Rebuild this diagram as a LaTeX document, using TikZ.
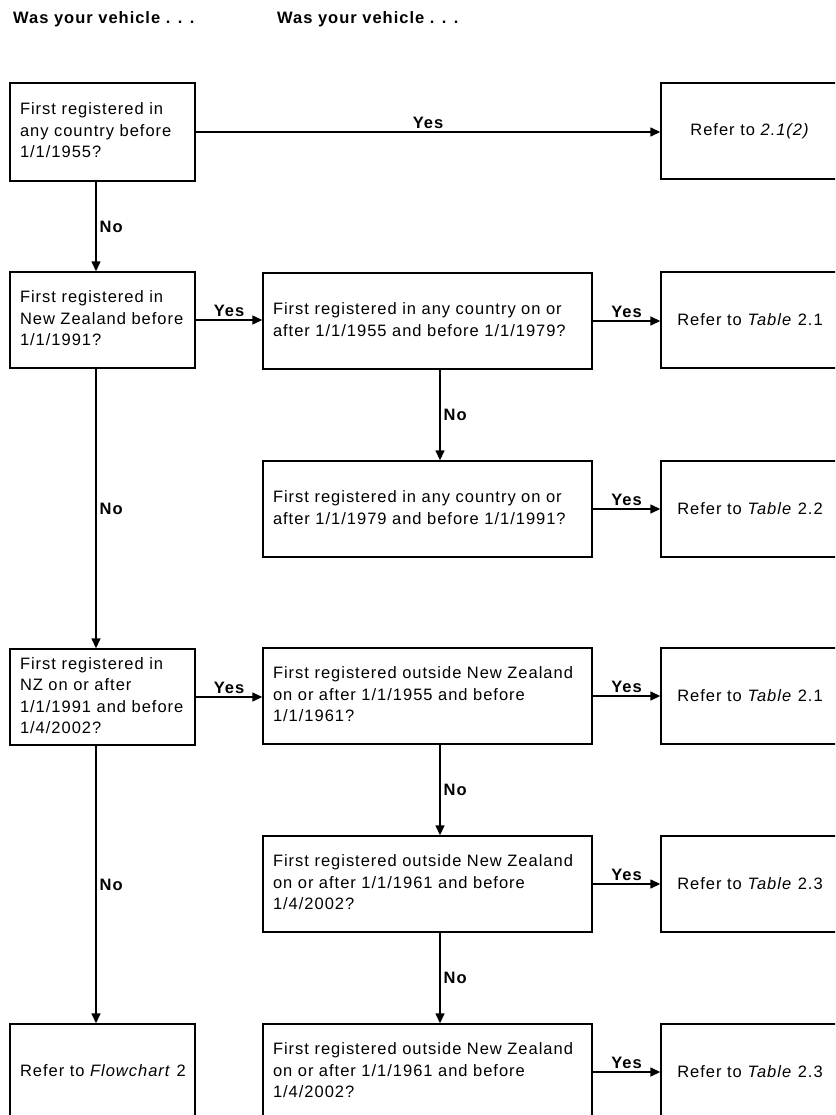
\documentclass[tikz,border=0pt]{standalone}
\usepackage{fontspec}
\setmainfont{Liberation Sans}[LetterSpace=6.0]
\usetikzlibrary{arrows.meta}
\newcommand{\lines}[1]{\begin{tabular}{@{}l@{}}#1\end{tabular}}
\begin{document}
\begin{tikzpicture}[x=1pt,y=-1pt,
  every node/.style={font=\fontsize{16.5}{21.5}\selectfont},
  box/.style={draw, line width=1.4pt, rectangle, inner xsep=10pt, inner ysep=0pt, align=left, minimum height=96pt},
  lbox/.style={box, minimum width=185pt, text width=165pt},
  cbox/.style={box, minimum width=329pt, text width=309pt},
  rbox/.style={box, minimum width=178pt, align=center},
  arr/.style={line width=1.4pt, -{Triangle[length=10pt,width=9pt]}},
  lab/.style={font=\bfseries\fontsize{16.5}{20}\selectfont, inner sep=3pt},
  head/.style={font=\bfseries\fontsize{16.5}{20}\selectfont, anchor=base west, inner sep=0pt}
]
\useasboundingbox (0,0) rectangle (835,1115);
\fill[white] (0,0) rectangle (835,1115);
\clip (0,0) rectangle (835,1115);

\coordinate (lx) at (96,0);
\coordinate (cx) at (440,0);

% headers
\node[head] (h1) at (13,24) {Was your vehicle . . .};
\node[head] (h2) at (277,24) {Was your vehicle . . .};

% left column
\node[lbox, minimum height=98pt] (A) at (102.5,132) {\lines{First registered in\\any country before\\1/1/1955?}};
\node[lbox] (B) at (102.5,320) {\lines{First registered in\\New Zealand before\\1/1/1991?}};
\node[lbox] (D) at (102.5,697) {\lines{First registered in\\NZ on or after\\1/1/1991 and before\\1/4/2002?}};
\node[lbox] (E) at (102.5,1072) {\lines{Refer to \textit{Flowchart} 2}};

% centre column
\node[cbox] (C1) at (427.5,321) {\lines{First registered in any country on or\\after 1/1/1955 and before 1/1/1979?}};
\node[cbox] (C2) at (427.5,509) {\lines{First registered in any country on or\\after 1/1/1979 and before 1/1/1991?}};
\node[cbox] (C3) at (427.5,696) {\lines{First registered outside New Zealand\\on or after 1/1/1955 and before\\1/1/1961?}};
\node[cbox] (C4) at (427.5,884) {\lines{First registered outside New Zealand\\on or after 1/1/1961 and before\\1/4/2002?}};
\node[cbox] (C5) at (427.5,1072) {\lines{First registered outside New Zealand\\on or after 1/1/1961 and before\\1/4/2002?}};

% right column
\node[rbox] (R1) at (750,131) {Refer to \textit{2.1(2)}};
\node[rbox] (R2) at (750,320) {Refer to \textit{Table} 2.1};
\node[rbox] (R3) at (750,509) {Refer to \textit{Table} 2.2};
\node[rbox] (R4) at (750,696) {Refer to \textit{Table} 2.1};
\node[rbox] (R5) at (750,884) {Refer to \textit{Table} 2.3};
\node[rbox] (R6) at (750,1072) {Refer to \textit{Table} 2.3};

% Yes connectors (horizontal)
\draw[arr] (A.east) -- (A.east -| R1.west) node[midway, above, lab] {Yes};
\draw[arr] (B.east) -- (B.east -| C1.west) node[midway, above, lab] {Yes};
\draw[arr] (C1.east) -- (C1.east -| R2.west) node[midway, above, lab] {Yes};
\draw[arr] (C2.east) -- (C2.east -| R3.west) node[midway, above, lab] {Yes};
\draw[arr] (D.east) -- (D.east -| C3.west) node[midway, above, lab] {Yes};
\draw[arr] (C3.east) -- (C3.east -| R4.west) node[midway, above, lab] {Yes};
\draw[arr] (C4.east) -- (C4.east -| R5.west) node[midway, above, lab] {Yes};
\draw[arr] (C5.east) -- (C5.east -| R6.west) node[midway, above, lab] {Yes};

% No connectors
\draw[arr] (A.south -| lx) -- (B.north -| lx) node[midway, right, lab] {No};
\draw[arr] (B.south -| lx) -- (D.north -| lx) node[midway, right, lab] {No};
\draw[arr] (D.south -| lx) -- (E.north -| lx) node[midway, right, lab] {No};
\draw[arr] (C1.south -| cx) -- (C2.north -| cx) node[midway, right, lab] {No};
\draw[arr] (C3.south -| cx) -- (C4.north -| cx) node[midway, right, lab] {No};
\draw[arr] (C4.south -| cx) -- (C5.north -| cx) node[midway, right, lab] {No};
\end{tikzpicture}
\end{document}
